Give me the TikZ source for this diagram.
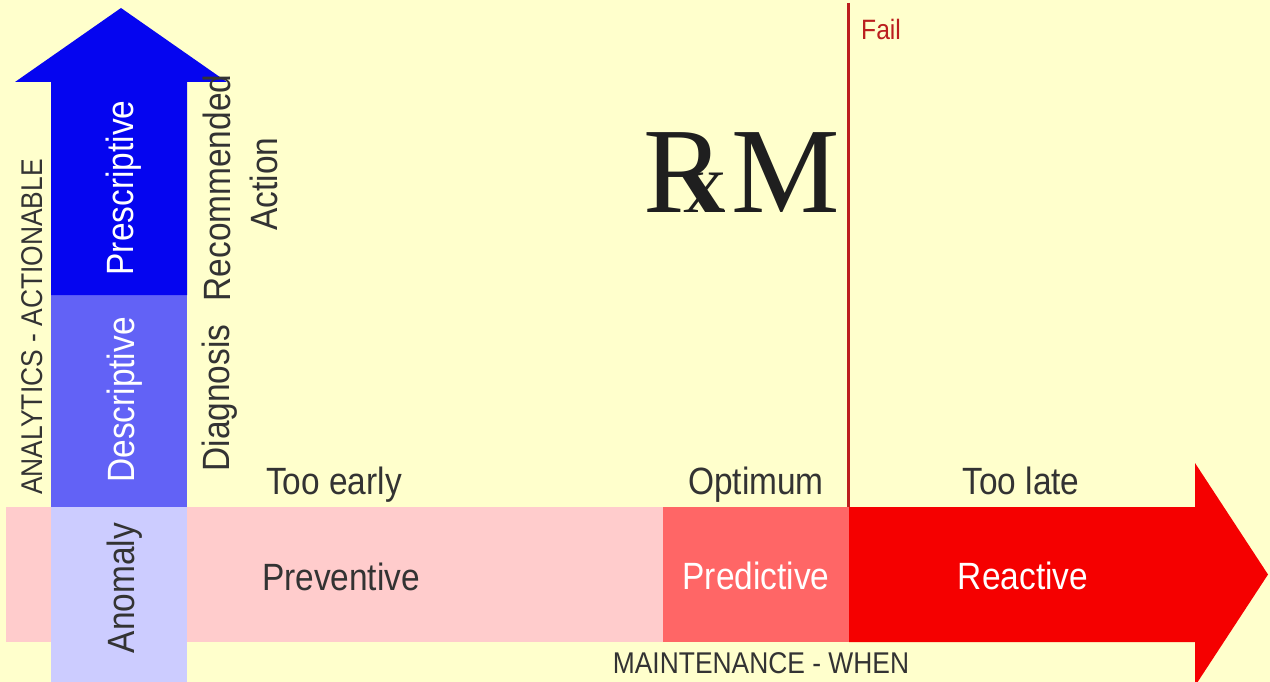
\documentclass[tikz,border=0pt]{standalone}
\usepackage{fontspec}
\setmainfont{Liberation Sans}[FakeStretch=0.88]
\newfontfamily\rxfont{Liberation Serif}
\usepackage{xcolor}
\usepackage{tikz}
\definecolor{bgyellow}{HTML}{FFFFCC}
\definecolor{deepblue}{HTML}{0505F0}
\definecolor{midblue}{HTML}{6262F6}
\definecolor{paleblue}{HTML}{CCCCFF}
\definecolor{palered}{HTML}{FFCCCC}
\definecolor{coral}{HTML}{FF6666}
\definecolor{brightred}{HTML}{F50000}
\definecolor{failred}{HTML}{BB1E1E}
\definecolor{txtgrey}{HTML}{333333}

\begin{document}
\begin{tikzpicture}[x=1pt, y=-1pt,
    lbl/.style={font=\fontsize{38}{47}\selectfont, text=txtgrey, anchor=base, inner sep=0pt},
    smalllbl/.style={font=\fontsize{30}{36}\selectfont, text=txtgrey, anchor=base, inner sep=0pt},
    up/.style={rotate=90}
  ]
    \useasboundingbox (0,0) rectangle (1270,682);
    \fill[bgyellow] (0,0) rectangle (1270,682);

    % maintenance arrow (when)
    \fill[palered] (6,507) rectangle (663,642);
    \fill[coral] (663,507) rectangle (849,642);
    \fill[brightred] (849,507) -- (1195,507) -- (1195,463) -- (1268,574.5)
      -- (1195,686) -- (1195,642) -- (849,642) -- cycle;

    % analytics arrow (actionable)
    \fill[paleblue] (51,507) rectangle (187,682);
    \fill[midblue] (51,295) rectangle (187,507);
    \fill[deepblue] (51,295) -- (51,82) -- (15,82) -- (121,8) -- (227,82)
      -- (187,82) -- (187,295) -- cycle;

    % failure line
    \draw[failred, line width=3pt] (848,3) -- (848,507);
    \node[font=\fontsize{28}{34}\selectfont, text=failred, anchor=base west, inner sep=0pt] (fail) at (861,40) {Fail};

    \node[anchor=base west, inner sep=0pt, text=black!88] (rxm) at (643,213)
      {\rxfont\fontsize{122}{122}\selectfont R\kern-41pt{\fontsize{86}{86}\selectfont x}\kern5pt M};

    % timing labels
    \node[lbl] (early) at (334,494) {Too early};
    \node[lbl] (optimum) at (756,494) {Optimum};
    \node[lbl] (late) at (1021,494) {Too late};
    \node[lbl] (prev) at (341,590) {Preventive};
    \node[lbl, text=white] (pred) at (756,589) {Predictive};
    \node[lbl, text=white] (react) at (1023,589) {Reactive};
    \node[smalllbl] (when) at (761,673) {MAINTENANCE - WHEN};

    % analytics labels
    \node[smalllbl, up] (actionable) at (42,327) {ANALYTICS - ACTIONABLE};
    \node[lbl, up, text=white] (presc) at (133,188) {Prescriptive};
    \node[lbl, up, text=white] (desc) at (134,400) {Descriptive};
    \node[lbl, up] (anomaly) at (134,588) {Anomaly};
    \node[lbl, up] (diag) at (229,398) {Diagnosis};
    \node[lbl, up] (rec) at (230,188) {Recommended};
    \node[lbl, up] (act) at (277,184) {Action};
  \end{tikzpicture}
\end{document}
